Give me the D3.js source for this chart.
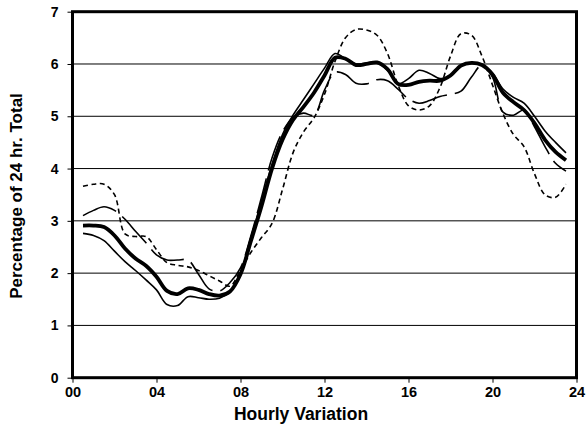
<!DOCTYPE html>
<html>
<head>
<meta charset="utf-8">
<script src="https://cdn.jsdelivr.net/npm/d3@7"></script>
<style>
  html, body { margin: 0; padding: 0; background: #fff; }
  svg { display: block; font-family: Arial, "Liberation Sans", sans-serif; }
</style>
</head>
<body>
<svg id="chart" width="586" height="430"></svg>
<script>
// ---- Data ----
const hours = [0.5,1,1.5,2,2.5,3,3.5,4,4.5,5,5.5,6,6.5,7,7.5,8,8.5,9,9.5,10,10.5,11,11.5,12,
               12.5,13,13.5,14,14.5,15,15.5,16,16.5,17,17.5,18,18.5,19,19.5,20,20.5,21,21.5,22,22.5,23,23.5];

const averageSeries = [2.91,2.91,2.88,2.72,2.47,2.28,2.14,1.93,1.66,1.6,1.71,1.68,1.6,1.57,1.65,1.98,
  2.62,3.28,4.0,4.55,4.93,5.18,5.45,5.78,6.12,6.1,5.98,6.0,6.03,5.9,5.62,5.6,5.66,5.68,5.68,5.78,
  5.97,6.02,5.98,5.8,5.45,5.27,5.12,4.87,4.55,4.32,4.16];

const thinSeries = [2.76,2.72,2.62,2.42,2.22,2.05,1.87,1.68,1.4,1.38,1.55,1.53,1.5,1.52,1.65,2.0,
  2.68,3.38,4.08,4.65,5.02,5.32,5.62,5.92,6.2,6.1,6.0,6.02,6.03,5.88,5.62,5.72,5.88,5.82,5.72,5.78,
  5.96,6.02,5.98,5.82,5.52,5.36,5.25,5.0,4.72,4.5,4.3];

const longDashSeries = [3.1,3.2,3.27,3.2,3.03,2.8,2.58,2.35,2.25,2.25,2.25,1.98,1.7,1.66,1.82,2.1,
  2.72,3.45,4.2,4.7,4.98,5.06,5.02,5.5,5.84,5.8,5.63,5.62,5.7,5.68,5.52,5.33,5.25,5.3,5.38,5.42,
  5.48,5.75,5.98,5.75,5.08,5.02,5.12,4.8,4.42,4.1,3.95];

const shortDashSeries = [3.66,3.7,3.7,3.5,2.75,2.7,2.7,2.45,2.2,2.15,2.12,2.05,1.95,1.85,1.75,2.06,
  2.4,2.68,2.95,3.6,4.3,4.7,4.97,5.42,6.05,6.5,6.66,6.65,6.55,6.2,5.6,5.2,5.12,5.2,5.55,6.15,
  6.58,6.55,6.15,5.6,5.05,4.65,4.42,3.9,3.5,3.45,3.7];

const xTicks = [0,4,8,12,16,20,24];
const xTickLabels = ["00","04","08","12","16","20","24"];
const yTicks = [0,1,2,3,4,5,6,7];

// ---- Layout ----
const svg = d3.select("#chart");
const margin = {left: 72.5, top: 11.7, right: 586 - 576.5, bottom: 430 - 377.7};
const W = 586, H = 430;
const FONT = "Arial, 'Liberation Sans', sans-serif";

const x = d3.scaleLinear().domain([0, 24]).range([margin.left, W - margin.right]);
const y = d3.scaleLinear().domain([0, 7]).range([H - margin.bottom, margin.top]);

// gridlines
svg.append("g")
  .selectAll("line")
  .data(yTicks.filter(d => d > 0 && d < 7))
  .join("line")
  .attr("x1", x(0)).attr("x2", x(24))
  .attr("y1", d => y(d)).attr("y2", d => y(d))
  .attr("stroke", "#000").attr("stroke-width", 1);

// Y axis
const yAxis = svg.append("g")
  .attr("transform", `translate(${x(0)},0)`)
  .call(d3.axisLeft(y).tickValues(yTicks).tickSize(5).tickPadding(9).tickFormat(d3.format("d")));
yAxis.select(".domain").remove();
yAxis.selectAll("line").attr("stroke", "#000");
yAxis.selectAll("text").attr("font-size", 14).attr("font-weight", "bold").attr("fill", "#000")
  .attr("font-family", FONT);

// X axis
const xAxis = svg.append("g")
  .attr("transform", `translate(0,${y(0)})`)
  .call(d3.axisBottom(x).tickValues(xTicks).tickSize(5).tickPadding(4)
    .tickFormat((d, i) => xTickLabels[i]));
xAxis.select(".domain").remove();
xAxis.selectAll("line").attr("stroke", "#000");
xAxis.selectAll("text").attr("font-size", 14.5).attr("font-weight", "bold").attr("fill", "#000")
  .attr("font-family", FONT);

// frame
svg.append("rect")
  .attr("x", x(0)).attr("y", y(7))
  .attr("width", x(24) - x(0)).attr("height", y(0) - y(7))
  .attr("fill", "none").attr("stroke", "#000").attr("stroke-width", 3);

// lines
const line = d3.line()
  .x((d, i) => x(hours[i]))
  .y(d => y(d))
  .curve(d3.curveCatmullRom.alpha(0.5));

const seriesDefs = [
  {values: shortDashSeries, width: 1.6, dash: "5,3.5"},
  {values: longDashSeries, width: 1.6, dash: "36,8"},
  {values: thinSeries, width: 1.6, dash: null},
  {values: averageSeries, width: 3.8, dash: null}
];

svg.append("g").selectAll("path")
  .data(seriesDefs)
  .join("path")
  .attr("d", d => line(d.values))
  .attr("fill", "none")
  .attr("stroke", "#000")
  .attr("stroke-width", d => d.width)
  .attr("stroke-dasharray", d => d.dash)
  .attr("stroke-linejoin", "round");

// axis titles
svg.append("text")
  .attr("x", 301).attr("y", 420)
  .attr("text-anchor", "middle")
  .attr("font-size", 17.5).attr("font-weight", "bold")
  .attr("font-family", FONT)
  .text("Hourly Variation");

svg.append("text")
  .attr("transform", `translate(22,196) rotate(-90)`)
  .attr("text-anchor", "middle")
  .attr("font-size", 17).attr("font-weight", "bold")
  .attr("font-family", FONT)
  .text("Percentage of 24 hr. Total");
</script>
</body>
</html>
